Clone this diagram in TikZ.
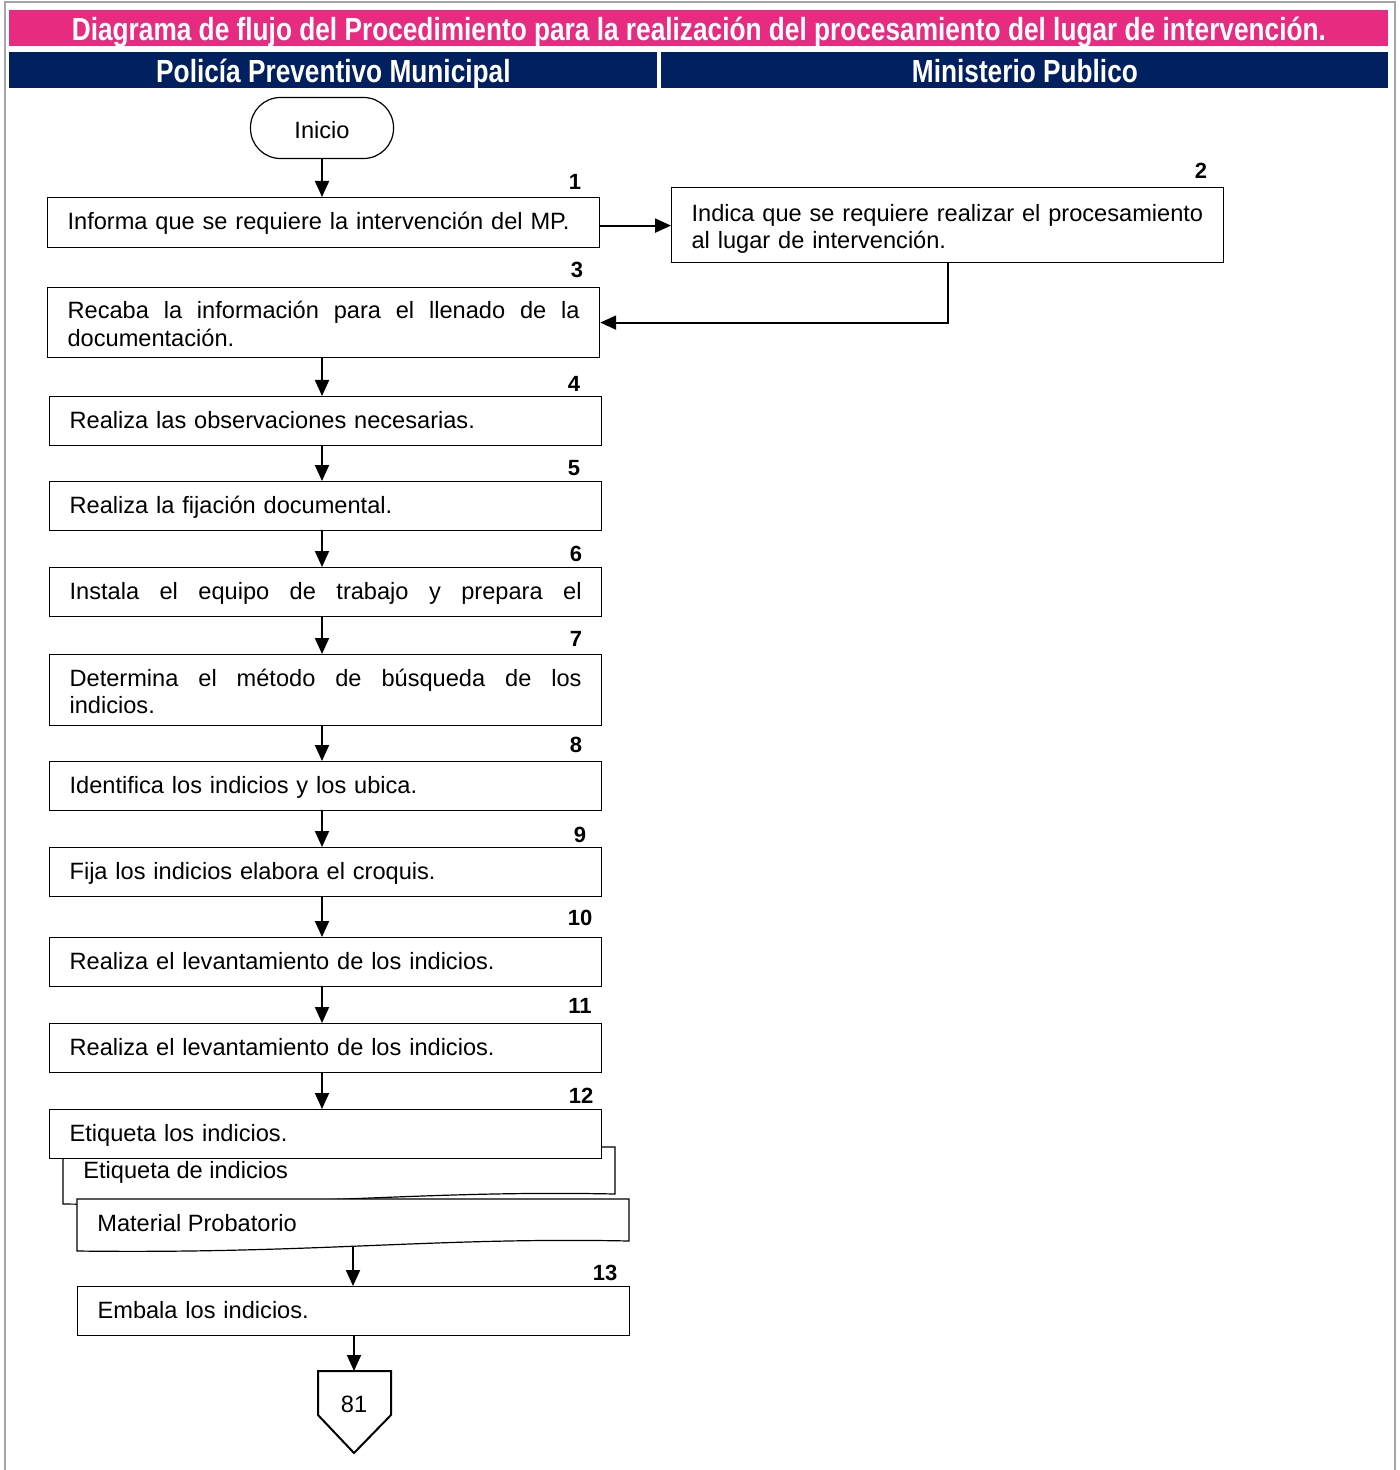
\documentclass[tikz,border=0pt]{standalone}
\usepackage{fontspec}
\setmainfont{Liberation Sans}
\newfontfamily\hdrfont[FakeStretch=0.82]{Liberation Sans}
\usetikzlibrary{arrows.meta}
\definecolor{pinkbar}{RGB}{231,43,128}
\definecolor{navybar}{RGB}{0,32,96}
\definecolor{framegray}{RGB}{165,165,165}
\hyphenpenalty=10000
\exhyphenpenalty=10000

\begin{document}
\begin{tikzpicture}[x=0.5pt,y=-0.5pt,
  every node/.style={font=\fontsize{11.8}{13.6}\selectfont},
  bar/.style={anchor=north west, inner sep=0pt, minimum height=18pt, text=white,
    text height=15.25pt, text depth=2.75pt,
    font=\hdrfont\bfseries\fontsize{16}{18}\selectfont},
  stepbox/.style={draw=black, line width=0.6pt, fill=white, anchor=north west,
    text width=256pt, inner xsep=10pt, inner ysep=0pt, minimum height=24.5pt, align=left,
    text height=7pt, text depth=0pt},
  twoline/.style={stepbox, text height=10pt, text depth=13.6pt},
  tallbox/.style={twoline, minimum height=35pt, align=justify},
  num/.style={inner sep=0pt, font=\bfseries\fontsize{11}{13}\selectfont},
  docshape/.style={draw=black, line width=0.6pt, fill=white},
  arr/.style={-{Triangle[length=8pt,width=7pt]}, line width=1pt}
]
\useasboundingbox (0,0) rectangle (1400,1470);

% frame
\draw[framegray, line width=1pt] (5,1470) -- (5,2) -- (1395,2) -- (1395,1470);

% header bars
\node[bar, fill=pinkbar, minimum width=689.5pt] (title) at (9,10)
  {Diagrama de flujo del Procedimiento para la realización del procesamiento del lugar de intervención.};
\node[bar, fill=navybar, minimum width=324pt] (lane1) at (9,52) {Policía Preventivo Municipal};
\node[bar, fill=navybar, minimum width=363.5pt] (lane2) at (661,52) {Ministerio Publico};

% start
\node[draw=black, line width=0.6pt, rounded corners=15pt, minimum width=71.5pt,
  minimum height=30.5pt, inner sep=0pt, text height=11pt, text depth=0pt] (ini) at (322,128) {Inicio};

% steps
\node[stepbox, minimum height=25pt] (b1) at (47,197) {Informa que se requiere la intervención del MP.};
\node[twoline, minimum height=37.5pt] (b2) at (671,187) {Indica que se requiere realizar el procesamiento\\al lugar de intervención.};
\node[tallbox] (b3) at (47,287) {Recaba la información para el llenado de la\linebreak documentación.};
\node[stepbox] (b4) at (49,396) {Realiza las observaciones necesarias.};
\node[stepbox] (b5) at (49,481) {Realiza la fijación documental.};
\node[stepbox] (b6) at (49,567) {\makebox[256pt]{Instala\hfill el\hfill equipo\hfill de\hfill trabajo\hfill y\hfill prepara\hfill el}};
\node[tallbox, minimum height=35.5pt] (b7) at (49,654) {Determina el método de búsqueda de los\linebreak indicios.};
\node[stepbox] (b8) at (49,761) {Identifica los indicios y los ubica.};
\node[stepbox] (b9) at (49,847) {Fija los indicios elabora el croquis.};
\node[stepbox] (b10) at (49,937) {Realiza el levantamiento de los indicios.};
\node[stepbox] (b11) at (49,1023) {Realiza el levantamiento de los indicios.};

% document behind step 12
\draw[docshape] (63,1147) -- (615,1147) -- (615,1194)
  .. controls (420,1190) and (300,1207) .. (63,1204) -- cycle;
\node[stepbox] (b12) at (49,1109) {Etiqueta los indicios.};
\node[anchor=west, inner sep=0pt] (d1) at (83,1172) {Etiqueta de indicios};

% second document
\draw[docshape] (77,1199) -- (629,1199) -- (629,1241)
  .. controls (434,1237) and (314,1254) .. (77,1251) -- cycle;
\node[anchor=west, inner sep=0pt] (d2) at (97,1223) {Material Probatorio};
\coordinate (d2b) at (353,1247);

\node[stepbox] (b13) at (77,1286) {Embala los indicios.};

% off-page connector
\draw[line width=1pt] (318,1371) -- (391,1371) -- (391,1415) -- (354,1453) -- (318,1415) -- cycle;
\coordinate (c81top) at (354,1371);
\node (c81) at (354,1404) {81};

% step numbers
\node[num] (n1) at (575,182) {1};
\node[num] (n2) at (1201,171) {2};
\node[num] (n3) at (577,270) {3};
\node[num] (n4) at (574,384) {4};
\node[num] (n5) at (574,468) {5};
\node[num] (n6) at (576,554) {6};
\node[num] (n7) at (576,639) {7};
\node[num] (n8) at (576,745) {8};
\node[num] (n9) at (580,835) {9};
\node[num] (n10) at (580,918) {10};
\node[num] (n11) at (580,1006) {11};
\node[num] (n12) at (581,1096) {12};
\node[num] (n13) at (605,1273) {13};

% connectors
\draw[arr] (ini.south) -- (b1.north -| ini.south);
\draw[arr] ([yshift=-1.5pt]b1.east) -- ([yshift=-1.5pt]b2.west |- b1.east);
\draw[arr] (b2.south) |- (b3.east);
\draw[arr] (b3.south -| ini.south) -- (b4.north -| ini.south);
\draw[arr] (b4.south -| ini.south) -- (b5.north -| ini.south);
\draw[arr] (b5.south -| ini.south) -- (b6.north -| ini.south);
\draw[arr] (b6.south -| ini.south) -- (b7.north -| ini.south);
\draw[arr] (b7.south -| ini.south) -- (b8.north -| ini.south);
\draw[arr] (b8.south -| ini.south) -- (b9.north -| ini.south);
\draw[arr] (b9.south -| ini.south) -- (b10.north -| ini.south);
\draw[arr] (b10.south -| ini.south) -- (b11.north -| ini.south);
\draw[arr] (b11.south -| ini.south) -- (b12.north -| ini.south);
\draw[arr] (d2b) -- (b13.north -| d2b);
\draw[arr] (b13.south -| c81top) -- (c81top);
\end{tikzpicture}
\end{document}
